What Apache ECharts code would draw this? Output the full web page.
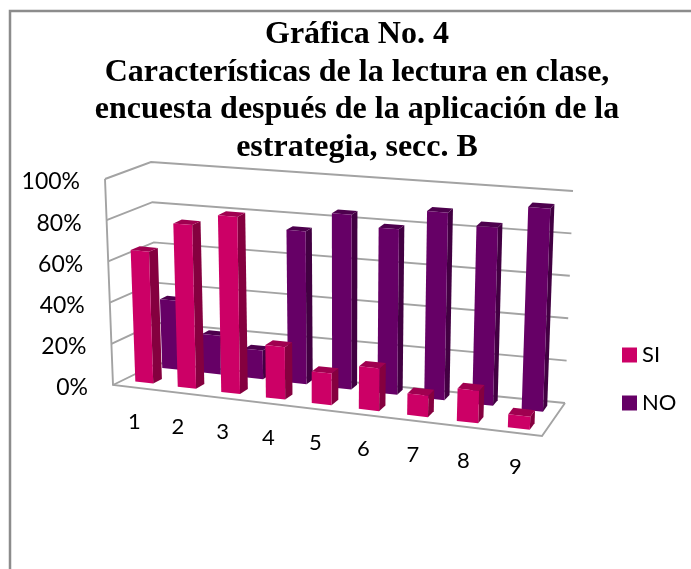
<!DOCTYPE html>
<html>
<head>
    <meta charset="utf-8">
    <script src="https://cdn.jsdelivr.net/npm/echarts@6/dist/echarts.min.js"></script>
    <style>
        html, body { margin: 0; background: #fff; }
        #main { width: 691px; height: 569px; }
    </style>
</head>

<body>
    <div id="main"></div>

    <script type="text/javascript">
        var categories = ['1', '2', '3', '4', '5', '6', '7', '8', '9'];
        var siValues = [64, 79, 85, 25, 15, 20, 10, 15, 6];
        var noValues = [34, 19, 14, 74, 84, 79, 89, 84, 95];
        var yTicks = [0, 20, 40, 60, 80, 100];

        var myChart = echarts.init(document.getElementById('main'));

        // the 3d box as drawn on the page: front left, front right, back right, back left
        var floorQuad = [[113, 385], [542, 436], [565, 403], [158, 363]];
        var topQuad = [[105, 179], [551, 217], [573, 191], [151, 162]];

        function lerp(a, b, t) {
            return a + (b - a) * t;
        }

        function quadPoint(q, t, w) {
            var fx = lerp(q[0][0], q[1][0], t), fy = lerp(q[0][1], q[1][1], t);
            var bx = lerp(q[3][0], q[2][0], t), by = lerp(q[3][1], q[2][1], t);
            return [lerp(fx, bx, w), lerp(fy, by, w)];
        }

        // u along categories, v along value axis, w into the depth, all 0..1
        // categories get wider towards the right, the right side is nearer
        function project(u, v, w) {
            var t = u / (u + 1.12 * (1 - u));
            var a = quadPoint(floorQuad, t, w), b = quadPoint(topQuad, t, w);
            return [lerp(a[0], b[0], v), lerp(a[1], b[1], v)];
        }

        function fractions(params, api, cat, val) {
            var box = params.coordSys;
            var p = api.coord([cat, val]);
            return [(p[0] - box.x) / box.width, (box.y + box.height - p[1]) / box.height];
        }

        // depth of the bar changes from the left of the box to the right
        function barRenderer(frontL, frontR, backL, backR, faceColor, sideColor, topColor) {
            return function(params, api) {
                var f = fractions(params, api, api.value(0), api.value(1));
                var half = api.size([1, 0])[0] * 0.21 / params.coordSys.width;
                var u0 = f[0] - half, u1 = f[0] + half, v = f[1];
                var front = lerp(frontL, frontR, f[0]), back = lerp(backL, backR, f[0]);
                function face(pts, color) {
                    return { type: 'polygon', shape: { points: pts }, style: { fill: color } };
                }
                return {
                    type: 'group',
                    children: [
                        face([project(u1, 0, front), project(u1, 0, back), project(u1, v, back), project(u1, v, front)], sideColor),
                        face([project(u0, v, front), project(u1, v, front), project(u1, v, back), project(u0, v, back)], topColor),
                        face([project(u0, 0, front), project(u1, 0, front), project(u1, v, front), project(u0, v, front)], faceColor)
                    ]
                };
            };
        }

        var lineStyle = { stroke: '#a3a3a3', lineWidth: 1.9, fill: null };

        var series = [
            {
                name: 'walls',
                type: 'custom',
                silent: true,
                data: yTicks.map(function(t) { return [0, t]; }),
                encode: { x: 0, y: 1 },
                renderItem: function(params, api) {
                    var v = fractions(params, api, 0, api.value(1))[1];
                    return {
                        type: 'polyline',
                        shape: { points: [project(0, v, 0), project(0, v, 1), project(1, v, 1)] },
                        style: lineStyle
                    };
                }
            },
            {
                name: 'box',
                type: 'custom',
                silent: true,
                data: [[0, 0]],
                encode: { x: 0, y: 1 },
                renderItem: function() {
                    return {
                        type: 'polyline',
                        shape: { points: [project(0, 1, 0), project(0, 0, 0), project(1, 0, 0), project(1, 0, 1)] },
                        style: lineStyle
                    };
                }
            },
            {
                name: 'NO',
                type: 'custom',
                itemStyle: { color: '#660066' },
                data: noValues.map(function(v, i) { return [i, v]; }),
                encode: { x: 0, y: 1 },
                renderItem: barRenderer(0.84, 0.68, 1.0, 0.86, '#660066', '#420042', '#4d004d')
            },
            {
                name: 'SI',
                type: 'custom',
                itemStyle: { color: '#cc0066' },
                data: siValues.map(function(v, i) { return [i, v]; }),
                encode: { x: 0, y: 1 },
                renderItem: barRenderer(0.23, 0.13, 0.43, 0.33, '#cc0066', '#85003f', '#a00050')
            },
            {
                name: 'ytext',
                type: 'custom',
                silent: true,
                data: yTicks.map(function(t) { return [0, t]; }),
                encode: { x: 0, y: 1 },
                renderItem: function(params, api) {
                    var v = fractions(params, api, 0, api.value(1))[1];
                    var p = project(0, v, 0);
                    return {
                        type: 'text',
                        style: { text: api.value(1) + '%', x: p[0] - 25, y: p[1] + 3, align: 'right', verticalAlign: 'middle', font: '23px Lato', fill: '#000' }
                    };
                }
            },
            {
                name: 'xtext',
                type: 'custom',
                silent: true,
                data: categories.map(function(c, i) { return [i, 0]; }),
                encode: { x: 0, y: 1 },
                renderItem: function(params, api) {
                    var i = api.value(0);
                    var u = fractions(params, api, i, 0)[0];
                    var p = project(u, 0, 0);
                    return {
                        type: 'text',
                        style: { text: categories[i], x: p[0], y: p[1] + 34, align: 'center', verticalAlign: 'middle', font: '22px Lato', fill: '#000' }
                    };
                }
            }
        ];

        myChart.setOption({
            animation: false,
            backgroundColor: '#fff',
            title: {
                text: 'Gráfica No. 4\nCaracterísticas de la lectura en clase,\nencuesta después de la aplicación de la\nestrategia, secc. B',
                left: 352,
                top: 11,
                textAlign: 'center',
                textStyle: {
                    fontFamily: 'Liberation Serif',
                    fontWeight: 'bold',
                    fontSize: 32,
                    lineHeight: 37.5,
                    color: '#000'
                }
            },
            legend: {
                data: ['SI', 'NO'],
                orient: 'vertical',
                left: 617,
                top: 339,
                icon: 'rect',
                itemWidth: 15,
                itemHeight: 15,
                itemGap: 26,
                textStyle: { fontFamily: 'Lato', fontSize: 22, color: '#000' }
            },
            grid: { left: 113, right: 149, top: 179, bottom: 184 },
            xAxis: { type: 'category', data: categories, show: false },
            yAxis: { type: 'value', min: 0, max: 100, interval: 20, show: false },
            graphic: [
                { type: 'polyline', silent: true, shape: { points: [[10, 569], [10, 11], [691, 11]] }, style: { stroke: '#8c8c8c', lineWidth: 2.5, fill: null } }
            ],
            series: series
        });
    </script>
</body>

</html>
